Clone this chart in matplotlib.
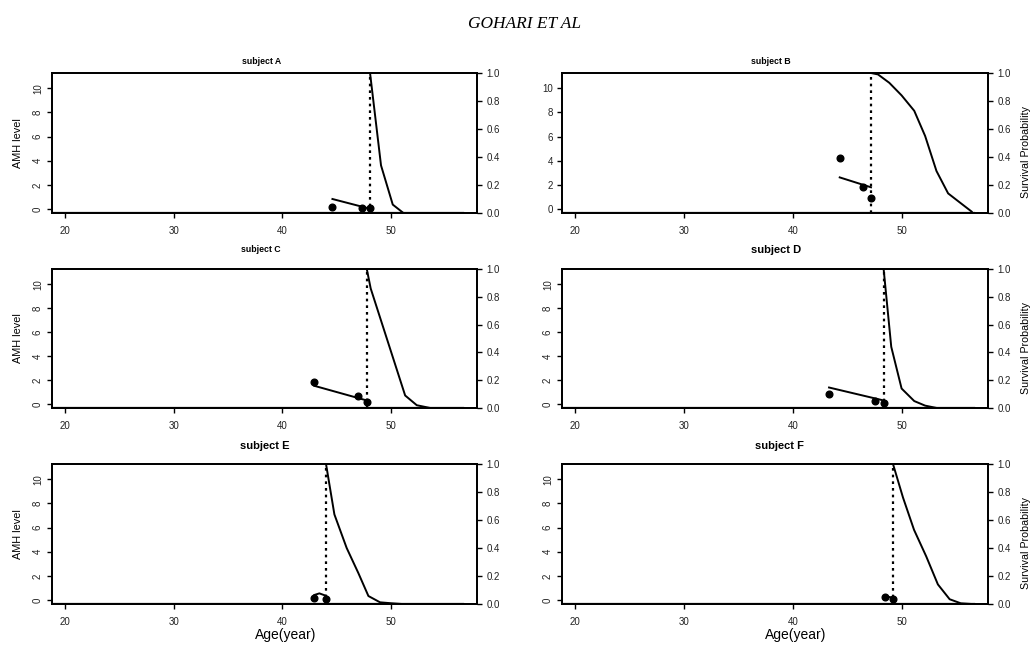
import matplotlib
matplotlib.use("Agg")
import matplotlib.pyplot as plt

plt.rcParams["font.family"] = ["Liberation Sans", "DejaVu Sans"]

# ---------------------------------------------------------------------------
# Data
# ---------------------------------------------------------------------------
subjects = ["A", "B", "C", "D", "E", "F"]

# observed AMH values
obs_age_A = [44.6, 47.3, 48.06]
obs_amh_A = [0.14, 0.08, 0.08]
obs_age_B = [44.29, 46.4, 47.16]
obs_amh_B = [4.25, 1.80, 0.91]
obs_age_C = [42.94, 46.99, 47.76]
obs_amh_C = [1.80, 0.69, 0.14]
obs_age_D = [43.31, 47.56, 48.32]
obs_amh_D = [0.88, 0.22, 0.08]
obs_age_E = [42.94, 44.01]
obs_amh_E = [0.19, 0.11]
obs_age_F = [48.48, 49.18]
obs_amh_F = [0.28, 0.08]

# fitted AMH trajectory
fit_age_A = [44.6, 48.06]
fit_amh_A = [0.83, 0.02]
fit_age_B = [44.29, 47.16]
fit_amh_B = [2.62, 1.80]
fit_age_C = [42.94, 47.76]
fit_amh_C = [1.52, 0.30]
fit_age_D = [43.31, 48.32]
fit_amh_D = [1.38, 0.30]
fit_age_E = [42.94, 43.4, 44.01]
fit_amh_E = [0.42, 0.55, 0.35]
fit_age_F = [48.48, 49.18]
fit_amh_F = [0.30, 0.20]

# predicted survival (time to menopause)
surv_age_A = [48.06, 49.07, 50.15, 51.13, 56.6]
surv_prob_A = [1.0, 0.34, 0.06, 0.0, 0.0]
surv_age_B = [47.16, 47.8, 48.84, 49.97, 51.13, 52.13, 53.17, 54.24, 55.4, 56.4]
surv_prob_B = [1.0, 0.99, 0.93, 0.84, 0.73, 0.55, 0.30, 0.14, 0.07, 0.01]
surv_age_C = [47.76, 48.12, 51.29, 52.36, 53.6, 56.6]
surv_prob_C = [1.0, 0.86, 0.09, 0.02, 0.0, 0.0]
surv_age_D = [48.32, 49.02, 49.97, 51.13, 52.13, 53.2, 56.6]
surv_prob_D = [1.0, 0.44, 0.14, 0.05, 0.017, 0.0, 0.0]
surv_age_E = [44.01, 44.78, 45.91, 46.99, 47.91, 48.98, 50.06, 51.0, 56.6]
surv_prob_E = [1.0, 0.64, 0.40, 0.22, 0.057, 0.012, 0.005, 0.0, 0.0]
surv_age_F = [49.18, 50.1, 51.11, 52.23, 53.3, 54.38, 55.4, 56.4, 56.6]
surv_prob_F = [1.0, 0.76, 0.53, 0.34, 0.14, 0.034, 0.005, 0.0, 0.0]

age_span = [18.8, 56.6]          # age grid of the survival estimate
x_ticks = [20, 30, 40, 50]
amh_ticks = [0, 2, 4, 6, 8, 10]
surv_ticks = [0.0, 0.2, 0.4, 0.6, 0.8, 1.0]

panels = {
    "A": (obs_age_A, obs_amh_A, fit_age_A, fit_amh_A, surv_age_A, surv_prob_A),
    "B": (obs_age_B, obs_amh_B, fit_age_B, fit_amh_B, surv_age_B, surv_prob_B),
    "C": (obs_age_C, obs_amh_C, fit_age_C, fit_amh_C, surv_age_C, surv_prob_C),
    "D": (obs_age_D, obs_amh_D, fit_age_D, fit_amh_D, surv_age_D, surv_prob_D),
    "E": (obs_age_E, obs_amh_E, fit_age_E, fit_amh_E, surv_age_E, surv_prob_E),
    "F": (obs_age_F, obs_amh_F, fit_age_F, fit_amh_F, surv_age_F, surv_prob_F),
}

# ---------------------------------------------------------------------------
# Layout (pixels of the 1032x648 page)
# ---------------------------------------------------------------------------
W, H = 1032, 648
col_left = [52, 562]
col_right = [477, 988]
row_top = [73, 269, 464]
row_bot = [213, 408, 604]
title_pos = {"A": (262, 62), "B": (771, 62), "C": (261, 250),
             "D": (776, 250), "E": (265, 446), "F": (779, 446)}
small_titles = {"A", "B", "C"}

fig = plt.figure(figsize=(W / 100, H / 100), dpi=100)
fig.text(524 / W, 1 - 24 / H, "GOHARI ET AL", ha="center", va="center",
         fontsize=12.5, style="italic", family=["Liberation Serif", "DejaVu Serif"])

for i, s in enumerate(subjects):
    row, col = divmod(i, 2)
    l, r = col_left[col], col_right[col]
    t, b = row_top[row], row_bot[row]
    ax = fig.add_axes([l / W, 1 - b / H, (r - l) / W, (b - t) / H])
    ax2 = ax.twinx()

    obs_age, obs_amh, fit_age, fit_amh, surv_age, surv_prob = panels[s]
    event_age = obs_age[-1]

    ax.set_xlim(18.8, 57.9)
    ax.set_ylim(-0.33, 11.27)
    ax2.set_ylim(0, 1)

    ax2.plot(age_span, [0, 0], color="black", lw=1.6, zorder=3)
    ax2.plot(surv_age, surv_prob, color="black", lw=1.4, zorder=3)
    ax2.plot([event_age, event_age], [0, 1], color="black", lw=1.6,
             linestyle=(0, (1.2, 1.8)), zorder=3)
    ax.plot(fit_age, fit_amh, color="black", lw=1.4, zorder=4)
    ax.plot(obs_age, obs_amh, "o", color="black", ms=4.8, zorder=5)

    ax.set_xticks(x_ticks)
    ax.set_yticks(amh_ticks)
    ax2.set_yticks(surv_ticks)
    ax2.set_yticklabels([f"{v:.1f}" for v in surv_ticks])

    for a in (ax, ax2):
        for sp in a.spines.values():
            sp.set_linewidth(1.3)
        a.tick_params(direction="out", length=3.6, width=1, labelsize=7,
                      color="black", labelcolor="#222222")
    ax.tick_params(axis="x", pad=5.5)
    ax.tick_params(axis="y", pad=3)
    ax2.tick_params(axis="y", pad=3)

    if s != "B":
        for lab in ax.get_yticklabels():
            lab.set_rotation(90)
            lab.set_va("center")
            lab.set_ha("right")

    tx, ty = title_pos[s]
    fig.text(tx / W, 1 - ty / H, f"subject {s}", ha="center", va="center",
             fontweight="bold", fontsize=6.3 if s in small_titles else 8)

    yc = (t + b) / 2
    if col == 0:
        fig.text(18 / W, 1 - yc / H, "AMH level", rotation=90,
                 ha="center", va="center", fontsize=7.8)
    else:
        fig.text(1026 / W, 1 - (yc + 9) / H, "Survival Probability",
                 rotation=90, ha="center", va="center", fontsize=7.7)
    if row == 2:
        fig.text((l + r) / 2 / W + 21 / W, 1 - 635 / H, "Age(year)",
                 ha="center", va="center", fontsize=10)

fig.savefig("out.png", dpi=100)
